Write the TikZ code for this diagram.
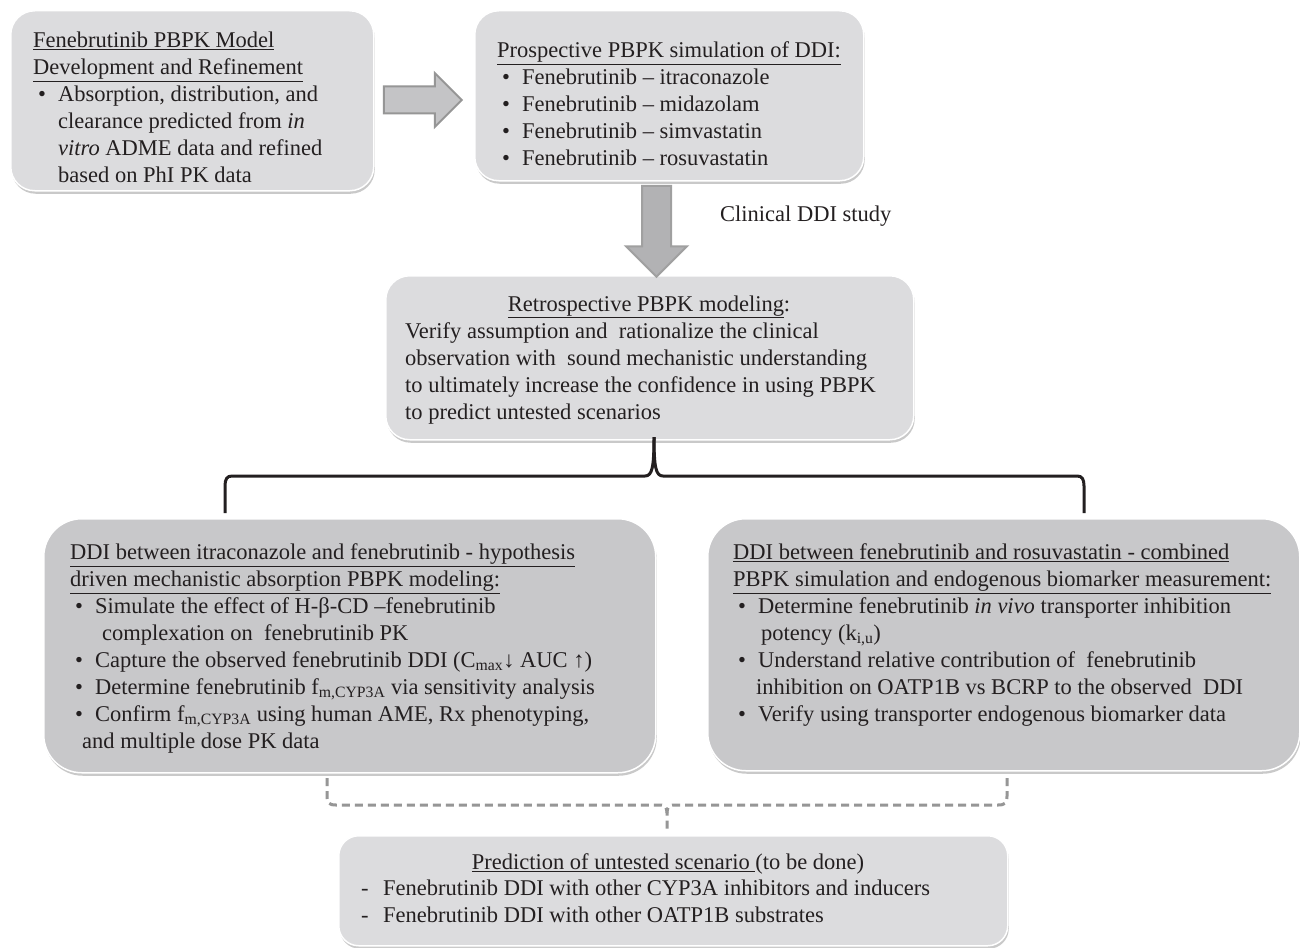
\documentclass[tikz,border=0pt]{standalone}
\usepackage{fontspec}
\setmainfont{Liberation Serif}
\usetikzlibrary{shapes.arrows,shadows}
\definecolor{boxlight}{RGB}{220,220,222}
\definecolor{boxdark}{RGB}{200,200,202}
\definecolor{txtcol}{RGB}{35,31,32}
\definecolor{arrowfill}{RGB}{196,196,198}
\definecolor{arrowline}{RGB}{150,150,150}
\definecolor{darrowfill}{RGB}{178,178,180}
\definecolor{darrowline}{RGB}{160,160,160}
\definecolor{dashcol}{RGB}{150,150,150}
\newcommand\bulA{\makebox[25pt][l]{\hspace*{5pt}\textbullet}}
\begin{document}
\begin{tikzpicture}[x=1pt,y=-1pt,
  panel/.style={anchor=north west, inner sep=0pt, draw=white, line width=1.5pt,
    drop shadow={opacity=0.35, shadow xshift=1pt, shadow yshift=-3pt, fill=black!60}},
  lightpanel/.style={panel, fill=boxlight, rounded corners=24pt},
  darkpanel/.style={panel, fill=boxdark, rounded corners=38pt},
  txt/.style={anchor=north west, inner sep=0pt, align=left, text=txtcol,
    font=\fontsize{22.5}{27}\selectfont},
  ttl/.style={anchor=base, inner sep=0pt, text=txtcol, font=\fontsize{22.5}{27}\selectfont},
  brace/.style={draw=txtcol, line width=3pt, line join=round},
  dbrace/.style={draw=dashcol, line width=3pt, dash pattern=on 8pt off 5pt}
]
\useasboundingbox (0,0) rectangle (1300,947);
\fill[white] (0,0) rectangle (1300,947);

% panels
\node[lightpanel, minimum width=363pt, minimum height=180pt] (b1) at (10,10) {};
\node[lightpanel, minimum width=389pt, minimum height=170pt] (b2) at (474,10) {};
\node[lightpanel, minimum width=528pt, minimum height=164pt] (b3) at (385,275) {};
\node[darkpanel, minimum width=612pt, minimum height=254pt] (b4) at (43,518) {};
\node[darkpanel, minimum width=592pt, minimum height=252pt] (b5) at (707,518) {};
\node[lightpanel, rounded corners=20pt, minimum width=669pt, minimum height=110pt] (b6) at (338,835) {};

% block arrows
\node[single arrow, draw=arrowline, fill=arrowfill, line width=2pt,
  inner xsep=0pt, inner ysep=12.5pt,
  minimum height=78pt, single arrow head extend=13.5pt] (ar1) at (416,100) {};
\node[single arrow, draw=darrowline, fill=darrowfill, line width=2pt,
  inner xsep=13.5pt, inner ysep=0pt, shape border rotate=270,
  minimum height=91pt, single arrow head extend=16pt] (ar2) at (656.5,224) {};
\node[ttl, anchor=base west] (clin) at (720,221.4) {Clinical DDI study};

% texts
\node[txt] (t1) at (33,28.5) {\strut\underline{Fenebrutinib PBPK Model}\\
\underline{Development and Refinement}\\
\bulA Absorption, distribution, and\\
\hspace*{25pt}clearance predicted from \textit{in}\\
\hspace*{25pt}\textit{vitro} ADME data and refined\\
\hspace*{25pt}based on PhI PK data};

\node[txt] (t2) at (497,38.5) {\strut\underline{Prospective PBPK simulation of DDI:}\\
\bulA Fenebrutinib – itraconazole\\
\bulA Fenebrutinib – midazolam\\
\bulA Fenebrutinib – simvastatin\\
\bulA Fenebrutinib – rosuvastatin};

\node[ttl] (t3h) at (649,311.4) {\underline{Retrospective PBPK modeling}:};
\node[txt] (t3) at (405,319.5) {\strut Verify assumption and\ \ rationalize the clinical\\
observation with\ \ sound mechanistic understanding\\
to ultimately increase the confidence in using PBPK\\
to predict untested scenarios};

\node[txt] (t4) at (70,540.5) {\strut\underline{DDI between itraconazole and fenebrutinib - hypothesis}\\
\underline{driven mechanistic absorption PBPK modeling:}\\
\bulA Simulate the effect of H-β-CD –fenebrutinib\\
\hspace*{32pt}complexation on\ \ fenebrutinib PK\\
\bulA Capture the observed fenebrutinib DDI (C\textsubscript{max}↓ AUC ↑)\\
\bulA Determine fenebrutinib f\textsubscript{m,CYP3A} via sensitivity analysis\\
\bulA Confirm f\textsubscript{m,CYP3A} using human AME, Rx phenotyping,\\
\hspace*{12pt}and multiple dose PK data};

\node[txt] (t5) at (733,540.5) {\strut\underline{DDI between fenebrutinib and rosuvastatin - combined}\\
\underline{PBPK simulation and endogenous biomarker measurement:}\\
\bulA Determine fenebrutinib \textit{in vivo} transporter inhibition\\
\hspace*{28pt}potency (k\textsubscript{i,u})\\
\bulA Understand relative contribution of\ \ fenebrutinib\\
\hspace*{23pt}inhibition on OATP1B vs BCRP to the observed\ \ DDI\\
\bulA Verify using transporter endogenous biomarker data};

\node[ttl] (t6h) at (668,869.4) {\underline{Prediction of untested scenario }(to be done)};
\node[txt] (t6) at (361,876.5) {\strut\makebox[22pt][l]{-}Fenebrutinib DDI with other CYP3A inhibitors and inducers\\
\makebox[22pt][l]{-}Fenebrutinib DDI with other OATP1B substrates};

% solid brace from b3 to b4 / b5
\coordinate (bt) at (654,437);
\coordinate (bl) at (225,513);
\coordinate (br) at (1084,513);
\draw[brace] (bt) .. controls (654,468) and (652,476) .. (645,476) -- (232,476)
  .. controls (227,476) and (225,479) .. (225,486) -- (bl);
\draw[brace] (bt) .. controls (654,468) and (656,476) .. (663,476) -- (1077,476)
  .. controls (1082,476) and (1084,479) .. (1084,486) -- (br);

% dashed brace from b4 / b5 to b6
\coordinate (dl) at (327,778);
\coordinate (dr) at (1007,778);
\coordinate (dc) at (667,832);
\draw[dbrace] (dl) -- (327,796) .. controls (327,803) and (329,805) .. (336,805) -- (661,805)
  .. controls (665,805) and (667,808) .. (667,813) -- (dc);
\draw[dbrace] (dr) -- (1007,796) .. controls (1007,803) and (1005,805) .. (998,805) -- (673,805)
  .. controls (669,805) and (667,808) .. (667,813);
\end{tikzpicture}
\end{document}
